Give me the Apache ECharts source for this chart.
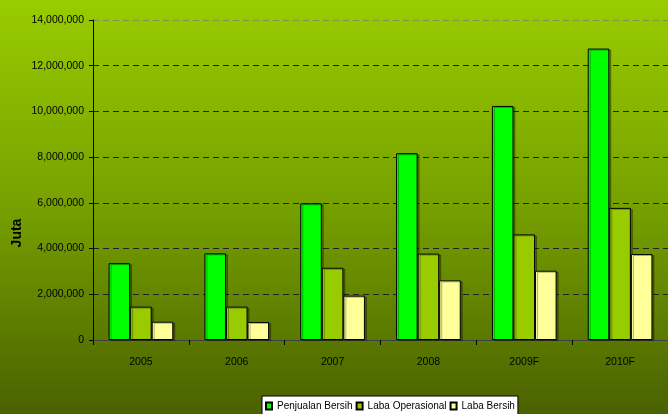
<!DOCTYPE html>
<html>
<head>
<meta charset="utf-8">
<script src="https://cdn.jsdelivr.net/npm/echarts@6/dist/echarts.min.js"></script>
<style>
html,body{margin:0;padding:0;}
#c{width:668px;height:414px;}
</style>
</head>
<body>
<div id="c"></div>
<script>
var categories = ['2005', '2006', '2007', '2008', '2009F', '2010F'];
var penjualanBersih = [3360000, 3790000, 5980000, 8170000, 10240000, 12750000];
var labaOperasional = [1460000, 1460000, 3160000, 3780000, 4620000, 5780000];
var labaBersih = [800000, 790000, 1940000, 2610000, 3030000, 3760000];
var seriesNames = ['Penjualan Bersih', 'Laba Operasional', 'Laba Bersih'];
var seriesColors = ['#00FF00', '#99CC00', '#FFFF99'];
var yAxisTitle = 'Juta';

var font = '"Liberation Sans", Arial, sans-serif';
var chart = echarts.init(document.getElementById('c'));

function barSeries(name, data, color) {
  return {
    name: name,
    type: 'bar',
    data: data,
    barGap: '0%',
    barCategoryGap: '32.5%',
    itemStyle: {
      color: color,
      borderColor: '#000',
      borderWidth: 1,
      shadowColor: 'rgba(0,0,0,0.3)',
      shadowOffsetX: 2,
      shadowOffsetY: 1,
      shadowBlur: 0
    },
    emphasis: { disabled: true },
    animation: false
  };
}

chart.setOption({
  animation: false,
  backgroundColor: {
    type: 'linear', x: 0, y: 0, x2: 0, y2: 1,
    colorStops: [
      { offset: 0, color: '#99CC00' },
      { offset: 0.5, color: '#76A000' },
      { offset: 1, color: '#4A6200' }
    ]
  },
  grid: { left: 93, top: 20, bottom: 74, right: -4, containLabel: false },
  graphic: [{
    type: 'text',
    x: 17,
    y: 233,
    rotation: Math.PI / 2,
    style: {
      text: yAxisTitle,
      fill: '#000',
      font: 'bold 14px ' + font,
      textAlign: 'center',
      textVerticalAlign: 'middle'
    }
  }],
  legend: {
    data: seriesNames,
    left: 262,
    top: 396,
    orient: 'horizontal',
    backgroundColor: '#FFFFFF',
    borderColor: '#000',
    borderWidth: 1,
    padding: [5, 3, 10, 3],
    itemWidth: 6,
    itemHeight: 7,
    itemGap: 3,
    icon: 'rect',
    textStyle: { color: '#000', fontSize: 10, fontFamily: font }
  },
  xAxis: {
    type: 'category',
    data: categories,
    axisLine: { lineStyle: { color: '#404040', width: 1 } },
    axisTick: { show: true, length: 5, lineStyle: { color: '#000' } },
    axisLabel: { color: '#000', fontSize: 10.5, fontFamily: font, margin: 17 },
    splitLine: { show: false }
  },
  yAxis: {
    type: 'value',
    min: 0,
    max: 14000000,
    interval: 2000000,
    axisLine: { show: true, lineStyle: { color: '#000', width: 1 } },
    axisTick: { show: true, length: 4, lineStyle: { color: '#000' } },
    axisLabel: {
      color: '#000', fontSize: 10.5, fontFamily: font, margin: 9,
      formatter: function (v) { return v.toLocaleString('en-US'); }
    },
    splitLine: {
      show: true,
      lineStyle: {
        color: ['#222', '#222', '#222', '#222', '#222', '#222', '#222', '#7F8F50'],
        type: [6, 4],
        width: 1
      }
    }
  },
  series: [
    barSeries(seriesNames[0], penjualanBersih, seriesColors[0]),
    barSeries(seriesNames[1], labaOperasional, seriesColors[1]),
    barSeries(seriesNames[2], labaBersih, seriesColors[2])
  ]
});
</script>
</body>
</html>
